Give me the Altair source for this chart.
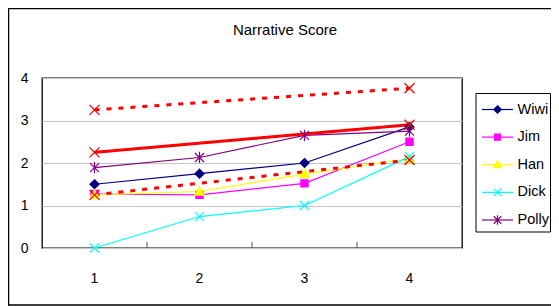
import altair as alt
import pandas as pd

# ---- data ----
weeks = ["1", "2", "3", "4"]
series_names = ["Wiwi", "Jim", "Han", "Dick", "Polly"]
wiwi = [1.5, 1.75, 2.0, 2.85]
jim = [1.27, 1.25, 1.52, 2.5]
han = [1.25, 1.33, 1.74, 2.1]
dick = [0.0, 0.74, 1.0, 2.15]
polly = [1.89, 2.13, 2.65, 2.75]
series_colors = ["#000080", "#FF00FF", "#FFFF00", "#00FFFF", "#800080"]

trend_weeks = ["1", "4"]
trend_names = ["Upper", "Trend", "Lower"]
trend_upper = [3.25, 3.76]
trend_mid = [2.25, 2.9]
trend_lower = [1.25, 2.07]

tick_weeks = ["2", "3", "4"]
title_text = "Narrative Score"

# marker shapes (custom paths)
plot_shapes = [
    "M0,-1L1,0L0,1L-1,0Z",
    "M-0.8,-0.8H0.8V0.8H-0.8Z",
    "M0,-1.05L1.05,0.8L-1.05,0.8Z",
    "M-1,-1L1,1M-1,1L1,-1",
    "M-1,-1L1,1M-1,1L1,-1M0,-1.25V1.25",
]

rows = []
for name, vals in zip(series_names, [wiwi, jim, han, dick, polly]):
    for w, v in zip(weeks, vals):
        rows.append({"week": w, "score": v, "series": name})
df = pd.DataFrame(rows)

trows = []
for name, vals in zip(trend_names, [trend_upper, trend_mid, trend_lower]):
    for w, v in zip(trend_weeks, vals):
        trows.append({"week": w, "score": v, "trend": name})
tdf = pd.DataFrame(trows)

tick_df = pd.DataFrame({"week": tick_weeks})
legend_df = pd.DataFrame({"series": series_names})
one_df = pd.DataFrame({"t": [title_text]})

FONT = "Liberation Sans"

xscale = alt.Scale(type="band", domain=weeks, paddingInner=0, paddingOuter=0)
yscale = alt.Scale(domain=[0, 4], nice=False)
color_scale = alt.Scale(domain=series_names, range=series_colors)
shape_scale = alt.Scale(domain=series_names, range=plot_shapes)

xaxis = alt.Axis(title=None, labelAngle=0, ticks=False, domain=False, zindex=1,
                 grid=False, labelPadding=23, labelFontSize=14, labelFont=FONT,
                 labelColor="#000000")
yaxis = alt.Axis(title=None, values=[0, 1, 2, 3, 4], ticks=False, domain=False, zindex=0,
                 grid=True, gridColor="#C4C4C4", gridWidth=1, labelPadding=14,
                 labelFontSize=14, labelFont=FONT, labelColor="#000000")

X = alt.X("week:O", scale=xscale, axis=xaxis, bandPosition=0.5)
Y = alt.Y("score:Q", scale=yscale, axis=yaxis)

base = alt.Chart(df)

lines = base.mark_line(strokeWidth=1.2).encode(
    x=X, y=Y,
    color=alt.Color("series:N", scale=color_scale, legend=None),
    order=alt.Order("week:O"),
)

points = base.mark_point(filled=True, size=81, strokeWidth=1.2, opacity=1).encode(
    x=X, y=Y,
    fill=alt.Fill("series:N", scale=color_scale, legend=None),
    stroke=alt.Stroke("series:N", scale=color_scale, legend=None),
    shape=alt.Shape("series:N", scale=shape_scale, legend=None),
)

trend_lines = alt.Chart(tdf).mark_line(color="#FF0000", strokeWidth=3).encode(
    x=X, y=Y,
    detail="trend:N",
    strokeDash=alt.StrokeDash("trend:N", scale=alt.Scale(domain=trend_names, range=[[5, 7], [1, 0], [5, 7]]), legend=None),
)

trend_marks = alt.Chart(tdf).mark_point(shape="M-1,-1L1,1M-1,1L1,-1", size=100, color="#FF0000",
                                        strokeWidth=1.3, opacity=1).encode(x=X, y=Y)

ticks = alt.Chart(tick_df).mark_rule(color="#555555", strokeWidth=1).encode(
    x=alt.X("week:O", scale=xscale, axis=xaxis, bandPosition=0),
    y=alt.value(170), y2=alt.value(164),
)

title_layer = alt.Chart(one_df).mark_text(
    font=FONT, fontSize=15, color="#000000", align="center", baseline="alphabetic"
).encode(text="t:N", x=alt.value(243), y=alt.value(-43))

outer = alt.Chart(one_df).mark_rect(fill="transparent", stroke="#000000", strokeWidth=1.5).encode(
    x=alt.value(-33.5), x2=alt.value(530), y=alt.value(-69.5), y2=alt.value(227),
)

main = alt.layer(lines, trend_lines, points, trend_marks, ticks, title_layer, outer)

# ---- legend (drawn with its own row scale) ----
LY = alt.Y("series:N", scale=alt.Scale(type="point", domain=series_names, range=[31.5, 142], padding=0), axis=None)

leg_box = alt.Chart(one_df).mark_rect(fill="#FFFFFF", stroke="#000000", strokeWidth=1).encode(
    x=alt.value(434), x2=alt.value(508.5), y=alt.value(15.5), y2=alt.value(154),
)
leg_lines = alt.Chart(legend_df).mark_rule(strokeWidth=1.2).encode(
    x=alt.value(440), x2=alt.value(471), y=LY,
    color=alt.Color("series:N", scale=color_scale, legend=None),
)
leg_points = alt.Chart(legend_df).mark_point(filled=True, size=56, strokeWidth=1.2, opacity=1).encode(
    x=alt.value(455.5), y=LY,
    fill=alt.Fill("series:N", scale=color_scale, legend=None),
    stroke=alt.Stroke("series:N", scale=color_scale, legend=None),
    shape=alt.Shape("series:N", scale=shape_scale, legend=None),
)
leg_text = alt.Chart(legend_df).mark_text(
    font=FONT, fontSize=14.5, color="#000000", align="left", baseline="middle"
).encode(x=alt.value(475.5), y=LY, text="series:N")

legend_block = alt.layer(leg_box, leg_lines, leg_points, leg_text)

chart = alt.layer(main, legend_block).resolve_scale(y="independent").properties(
    width=420, height=170,
    padding={"left": 34, "top": 70, "right": 89, "bottom": 58},
    autosize=alt.AutoSizeParams(type="none"),
).configure(
    background="white",
    view=alt.ViewConfig(stroke="#000000", strokeWidth=1.3),
)

chart.save("out.html", embed_options={"renderer": "svg", "actions": False})
